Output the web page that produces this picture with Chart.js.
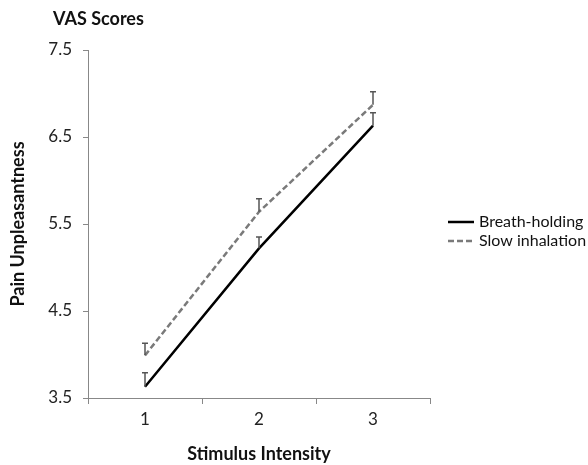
<!DOCTYPE html>
<html>
<head>
<meta charset="utf-8">
<script src="https://cdn.jsdelivr.net/npm/chart.js@4"></script>
<style>
  body { margin: 0; background: #fff; }
  #wrap { width: 588px; height: 465px; }
</style>
</head>
<body>
<div id="wrap"><canvas id="myChart"></canvas></div>
<script>
const xValues = ["1", "2", "3"];
const breathHolding = [3.63, 5.22, 6.63];
const slowInhalation = [3.99, 5.64, 6.87];
const breathErr = [0.16, 0.13, 0.15];
const slowErr = [0.14, 0.15, 0.15];

const font = "Lato, 'Open Sans', sans-serif";

// upward error bars with a small cap
const errorBars = {
  id: "errorBars",
  afterDatasetsDraw(chart) {
    const ctx = chart.ctx;
    const y = chart.scales.y;
    chart.data.datasets.forEach((ds, i) => {
      const meta = chart.getDatasetMeta(i);
      ctx.save();
      ctx.strokeStyle = "#555";
      ctx.lineWidth = 1.5;
      meta.data.forEach((pt, j) => {
        const top = y.getPixelForValue(ds.data[j] + ds.errors[j]);
        ctx.beginPath();
        ctx.moveTo(pt.x, pt.y);
        ctx.lineTo(pt.x, top);
        ctx.moveTo(pt.x - 3, top);
        ctx.lineTo(pt.x + 3, top);
        ctx.stroke();
      });
      ctx.restore();
    });
  }
};

// title top-left and the legend to the right of the plot
const extras = {
  id: "extras",
  afterDraw(chart) {
    const ctx = chart.ctx;
    const area = chart.chartArea;
    ctx.save();
    ctx.font = "bold 18px " + font;
    ctx.fillStyle = "#111";
    ctx.textBaseline = "middle";
    ctx.fillText("VAS Scores", 53, 19);

    ctx.font = "16px " + font;
    chart.data.datasets.forEach((ds, i) => {
      const ly = 222 + i * 19;
      const lx = area.right + 18;
      ctx.strokeStyle = ds.borderColor;
      ctx.lineWidth = ds.borderWidth;
      ctx.setLineDash(ds.borderDash || []);
      ctx.beginPath();
      ctx.moveTo(lx, ly);
      ctx.lineTo(lx + 26, ly);
      ctx.stroke();
      ctx.fillText(ds.label, lx + 31, ly);
    });
    ctx.restore();
  }
};

new Chart("myChart", {
  type: "line",
  data: {
    labels: xValues,
    datasets: [
      {
        label: "Breath-holding",
        data: breathHolding,
        errors: breathErr,
        borderColor: "#000",
        backgroundColor: "#000",
        borderWidth: 2.5,
        pointRadius: 0,
        tension: 0
      },
      {
        label: "Slow inhalation",
        data: slowInhalation,
        errors: slowErr,
        borderColor: "#7a7a7a",
        backgroundColor: "#7a7a7a",
        borderWidth: 2.5,
        borderDash: [6, 3],
        pointRadius: 0,
        tension: 0
      }
    ]
  },
  options: {
    responsive: true,
    maintainAspectRatio: false,
    animation: false,
    layout: { padding: { top: 50, right: 158, bottom: 0, left: 0 } },
    plugins: {
      tooltip: { enabled: false },
      legend: { display: false }
    },
    scales: {
      x: {
        offset: true,
        afterFit: s => { s.height = 67; },
        grid: { offset: true, drawOnChartArea: false, tickLength: 6, color: "#888" },
        border: { color: "#888" },
        ticks: { padding: 5, color: "#222", font: { family: font, size: 17 } },
        title: {
          display: true,
          text: "Stimulus Intensity",
          color: "#111",
          font: { family: font, size: 18, weight: "bold" },
          padding: { top: 0, bottom: 0 }
        }
      },
      y: {
        min: 3.5,
        max: 7.5,
        afterFit: s => { s.width = 88; },
        grid: { drawOnChartArea: false, tickLength: 5, color: "#888" },
        border: { color: "#888" },
        ticks: {
          stepSize: 1,
          padding: 11,
          color: "#222",
          font: { family: font, size: 17 },
          callback: v => v.toFixed(1)
        },
        title: {
          display: true,
          text: "Pain Unpleasantness",
          color: "#111",
          font: { family: font, size: 18, weight: "bold" },
          padding: { top: 7, bottom: 0 }
        }
      }
    }
  },
  plugins: [errorBars, extras]
});
</script>
</body>
</html>
